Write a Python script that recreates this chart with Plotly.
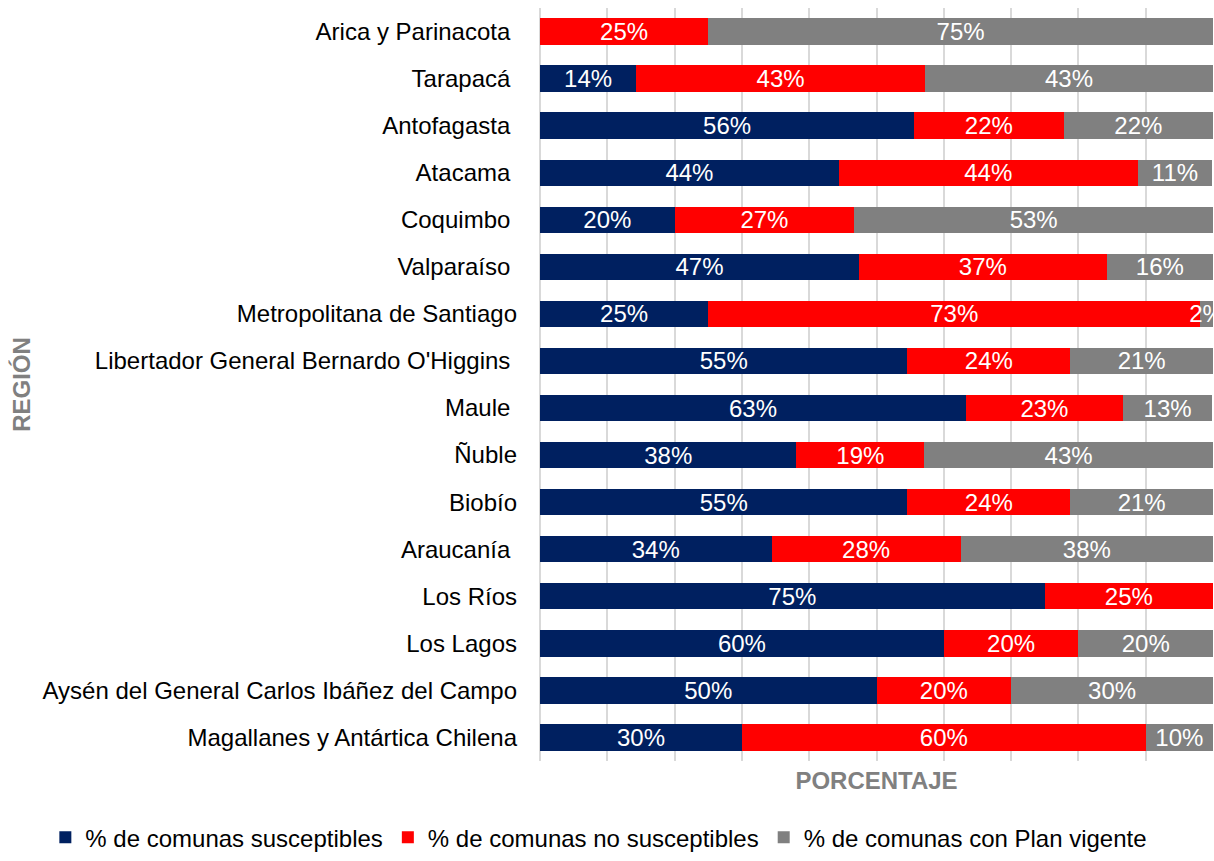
import plotly.graph_objects as go

regiones = [
    "Arica y Parinacota", "Tarapacá", "Antofagasta", "Atacama", "Coquimbo",
    "Valparaíso", "Metropolitana de Santiago",
    "Libertador General Bernardo O'Higgins", "Maule", "Ñuble", "Biobío",
    "Araucanía", "Los Ríos", "Los Lagos",
    "Aysén del General Carlos Ibáñez del Campo",
    "Magallanes y Antártica Chilena",
]
# the source labels carry a trailing blank on some regions
etiquetas = [
    "Arica y Parinacota\u00a0", "Tarapacá\u00a0", "Antofagasta\u00a0", "Atacama\u00a0",
    "Coquimbo\u00a0", "Valparaíso\u00a0", "Metropolitana de Santiago",
    "Libertador General Bernardo O'Higgins\u00a0", "Maule\u00a0", "Ñuble", "Biobío",
    "Araucanía\u00a0", "Los Ríos", "Los Lagos",
    "Aysén del General Carlos Ibáñez del Campo",
    "Magallanes y Antártica Chilena",
]
susceptibles = [0, 14.3, 55.6, 44.4, 20.0, 47.4, 25.0, 54.6, 63.3, 38.1, 54.6, 34.4, 75.0, 60.0, 50.0, 30.0]
no_susceptibles = [25.0, 42.9, 22.2, 44.4, 26.7, 36.8, 73.1, 24.2, 23.3, 19.0, 24.2, 28.1, 25.0, 20.0, 20.0, 60.0]
plan_vigente = [75.0, 42.8, 22.2, 11.1, 53.3, 15.8, 1.9, 21.2, 13.3, 42.9, 21.2, 37.5, 0, 20.0, 30.0, 10.0]

series = [
    ("% de comunas susceptibles", susceptibles, "#002060"),
    ("% de comunas no susceptibles", no_susceptibles, "#FF0000"),
    ("% de comunas con Plan vigente", plan_vigente, "#808080"),
]

FONT = "Liberation Sans, Arial, sans-serif"

fig = go.Figure()
for name, vals, color in series:
    fig.add_trace(
        go.Bar(
            y=regiones,
            x=vals,
            orientation="h",
            name=name,
            marker=dict(color=color, line=dict(width=0)),
            text=[f"{round(v)}%" if v > 0 else "" for v in vals],
            textposition="inside",
            insidetextanchor="middle",
            constraintext="none",
            textangle=0,
            textfont=dict(color="white", size=24, family=FONT),
            cliponaxis=False,
            hoverinfo="skip",
        )
    )

fig.update_layout(
    width=1214,
    height=861,
    barmode="stack",
    bargap=0.44,
    hovermode=False,
    plot_bgcolor="white",
    paper_bgcolor="white",
    margin=dict(l=540, r=1, t=8, b=98),
    font=dict(family=FONT, size=24, color="#000000"),
    legend=dict(
        orientation="h",
        x=-0.735,
        xanchor="left",
        y=-0.072,
        yanchor="top",
        font=dict(size=24, color="#000000"),
        traceorder="normal",
    ),
)

fig.update_xaxes(
    range=[0, 100],
    dtick=10,
    showticklabels=False,
    showgrid=True,
    gridcolor="#D9D9D9",
    gridwidth=1.5,
    zeroline=True,
    zerolinecolor="#D9D9D9",
    zerolinewidth=1.5,
    title=dict(text="<b>PORCENTAJE</b>", font=dict(size=24, color="#808080"), standoff=11),
)
fig.update_yaxes(
    autorange="reversed",
    showgrid=False,
    tickvals=regiones,
    ticktext=etiquetas,
    ticklabelstandoff=22,
    tickfont=dict(size=24, color="#000000"),
    title=dict(text="<b>REGIÓN</b>", font=dict(size=24, color="#808080"), standoff=5),
)

fig.write_html(
    "out.html",
    config={"displayModeBar": False},
    post_script="document.body.style.margin='0px';",
)
